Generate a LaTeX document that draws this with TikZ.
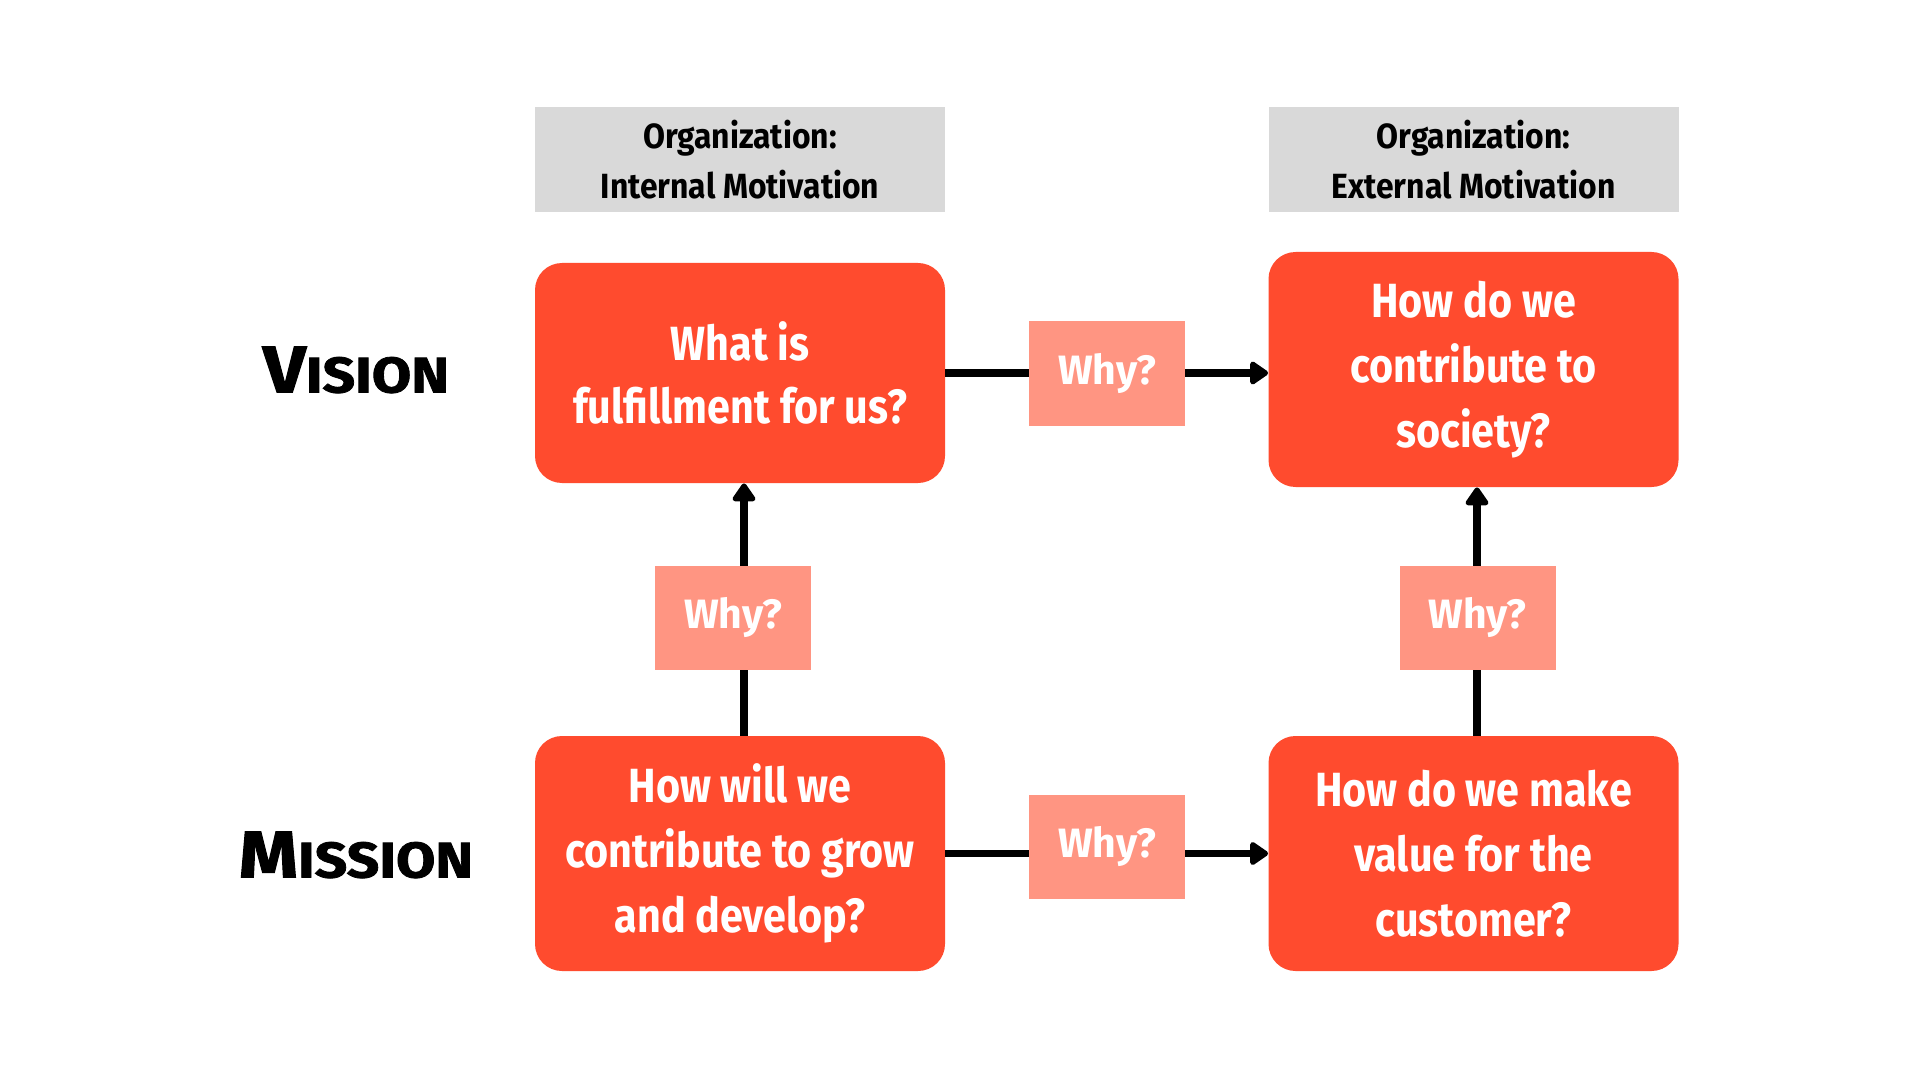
\documentclass[tikz,border=0pt]{standalone}
\usepackage{fontspec}
\setmainfont{Fira Sans}
\newfontfamily\condfont{Fira Sans}[FakeStretch=0.86]
\newfontfamily\headfont{Fira Sans}[FakeStretch=0.91]
\newfontfamily\labfont{Fira Sans}[BoldFeatures={FakeStretch=1.14, FakeBold=1.6}]
\usetikzlibrary{arrows.meta}
\definecolor{boxred}{HTML}{FF4B2E}
\definecolor{whybg}{HTML}{FF9582}
\definecolor{headgray}{HTML}{D9D9D9}
\tikzset{
  qbox/.style={fill=boxred, rounded corners=13.5pt, minimum width=205pt, text=white, align=center,
    font=\condfont\bfseries\fontsize{24}{32.5}\selectfont, inner sep=0pt},
  headbox/.style={fill=headgray, minimum width=205pt, minimum height=52.5pt, align=center,
    font=\headfont\bfseries\fontsize{17.5}{25}\selectfont, inner sep=0pt},
  whybox/.style={fill=whybg, minimum width=78pt, minimum height=52pt, text=white,
    font=\bfseries\fontsize{20.5}{24}\selectfont, inner sep=0pt},
  rowlabel/.style={font=\labfont\bfseries, inner sep=0pt},
  conn/.style={line width=3.7pt, line join=round},
  arr/.style={conn, -{Triangle[length=10pt,width=13pt,round]}}
}
\begin{document}
\begin{tikzpicture}[x=0.5pt,y=-0.5pt]
\useasboundingbox[fill=white] (0,0) rectangle (1920,1080);
% headers
\node[headbox] (hl) at (740,160) {Organization:\\Internal Motivation};
\node[headbox] (hr) at (1473.5,160) {Organization:\\External Motivation};
% question boxes
\node[qbox, minimum height=110pt] (tl) at (740,373) {What is\\[-1pt]fulfillment for us?};
\node[qbox, minimum height=117.5pt] (tr) at (1473.5,369.5) {How do we\\contribute to\\society?};
\node[qbox, minimum height=117.5pt] (bl) at (740,853.5) {How will we\\contribute to grow\\and develop?};
\node[qbox, minimum height=117.5pt] (br) at (1473.5,853.5) {How do we make\\value for the\\customer?};
% row labels
\node[rowlabel] (vis) at (356,370) {{\fontsize{33}{36}\selectfont V}{\fontsize{25}{36}\selectfont ISION}};
\node[rowlabel] (mis) at (356,855) {{\fontsize{33}{36}\selectfont M}{\fontsize{25}{36}\selectfont ISSION}};
% connectors
\draw[arr] (tl.east) -- (tl.east -| tr.west);
\draw[arr] (bl.east) -- (bl.east -| br.west);
\draw[arr] ([xshift=2pt]bl.north) -- ([xshift=2pt]tl.south);
\draw[arr] ([xshift=1.75pt]br.north) -- ([xshift=1.75pt]tr.south);
% why labels
\node[whybox] (w1) at (1107,373.5) {Why?};
\node[whybox] (w2) at (1107,846.5) {Why?};
\node[whybox] (w3) at (733,618) {Why?};
\node[whybox] (w4) at (1477.5,618) {Why?};
\end{tikzpicture}
\end{document}
